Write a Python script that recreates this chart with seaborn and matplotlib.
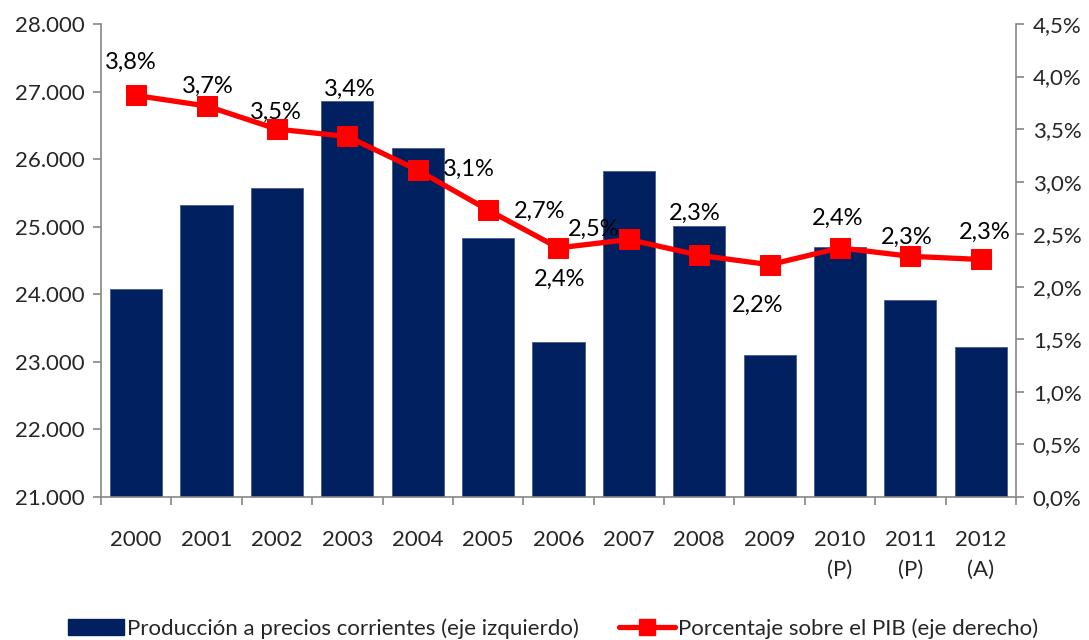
import numpy as np
import pandas as pd
import matplotlib
matplotlib.use("Agg")
import matplotlib.pyplot as plt
import seaborn as sns
from matplotlib.ticker import FuncFormatter, FixedLocator
from matplotlib.lines import Line2D
from matplotlib.patches import Patch

years = ["2000", "2001", "2002", "2003", "2004", "2005", "2006", "2007",
         "2008", "2009", "2010\n(P)", "2011\n(P)", "2012\n(A)"]
produccion = [24080, 25320, 25575, 26860, 26170, 24840, 23290, 25830,
              25015, 23100, 24705, 23915, 23225]
porcentaje = [3.82, 3.72, 3.50, 3.43, 3.11, 2.73, 2.37, 2.45,
              2.30, 2.21, 2.37, 2.29, 2.26]
labels = ["3,8%", "3,7%", "3,5%", "3,4%", "3,1%", "2,7%", "2,4%", "2,5%",
          "2,3%", "2,2%", "2,4%", "2,3%", "2,3%"]
# label offsets in points (dx, dy)
label_offsets = [(-3.6, 23.5), (0.7, 14.4), (-0.7, 12), (2, 34), (36.7, 0.7),
                 (37.4, -0.7), (0.7, -23), (-25, 7.2), (-3, 30), (-8.6, -29),
                 (-1.4, 21), (-3, 13.7), (3, 19.4)]

sns.set_theme(style="white")
plt.rcParams['font.family'] = ['Lato', 'DejaVu Sans']

NAVY = "#002060"
RED = "#FF0000"
GRAY = "#868686"

fig = plt.figure(figsize=(10.89, 6.40), dpi=100)
ax = fig.add_axes([0.0927, 0.2234, 0.9330 - 0.0927, 0.9625 - 0.2234])

df = pd.DataFrame({"year": years, "prod": produccion, "pct": porcentaje})
sns.barplot(data=df, x="year", y="prod", color=NAVY, width=0.74, ax=ax,
            saturation=1, edgecolor="#4a5a8a", linewidth=0.6)
ax.set_ylim(21000, 28000)
ax.set_xlim(-0.5, len(years) - 0.5)
ax.set_yticks(np.arange(21000, 28001, 1000))
ax.yaxis.set_major_formatter(FuncFormatter(lambda v, p: f"{int(v):,}".replace(",", ".")))
ax.set_xlabel("")
ax.set_ylabel("")

ax2 = ax.twinx()
sns.lineplot(x=np.arange(len(years)), y=[v / 100 for v in porcentaje], ax=ax2,
             color=RED, linewidth=3.8, marker="s", markersize=14,
             markeredgecolor=RED, markerfacecolor=RED)
ax2.set_ylim(0, 0.045)
ax2.set_yticks(np.arange(0, 0.0451, 0.005))
ax2.yaxis.set_major_formatter(FuncFormatter(lambda v, p: f"{v*100:.1f}%".replace(".", ",")))
ax2.set_ylabel("")
ax2.set_xlim(-0.5, len(years) - 0.5)

for i, (v, lab) in enumerate(zip(porcentaje, labels)):
    dx, dy = label_offsets[i]
    ax2.annotate(lab, (i, v / 100), xytext=(dx, dy), textcoords="offset points",
                 ha="center", va="center", fontsize=17, color="black")

for a in (ax, ax2):
    a.spines["top"].set_visible(False)
    for s in ("left", "right", "bottom"):
        a.spines[s].set_color(GRAY)
        a.spines[s].set_linewidth(1.2)
    a.grid(False)

ax.spines["right"].set_visible(False)
ax2.spines["left"].set_visible(False)
ax2.spines["bottom"].set_visible(False)

ax.tick_params(axis="y", which="major", direction="out", length=6, color=GRAY,
               width=1.2, labelsize=16, pad=6, left=True)
ax2.tick_params(axis="y", which="major", direction="out", length=6, color=GRAY,
                width=1.2, labelsize=16, pad=6, right=True)
ax.tick_params(axis="x", which="major", length=0, labelsize=16, pad=24)
ax.xaxis.set_minor_locator(FixedLocator(np.arange(-0.5, len(years), 1.0)))
ax.tick_params(axis="x", which="minor", direction="out", length=6, color=GRAY,
               width=1.2, bottom=True)
for t in ax.get_xticklabels():
    t.set_linespacing(1.6)

handles = [Patch(facecolor=NAVY, edgecolor=NAVY),
           Line2D([0], [0], color=RED, linewidth=3.8, marker="s", markersize=12)]
fig.legend(handles, ["Producción a precios corrientes (eje izquierdo)",
                     "Porcentaje sobre el PIB (eje derecho)"],
           loc="center", bbox_to_anchor=(0.508, 0.018), ncol=2, frameon=False,
           fontsize=16, handlelength=2.5, handletextpad=0.15, columnspacing=1.8)

fig.savefig("out.png", dpi=100)
